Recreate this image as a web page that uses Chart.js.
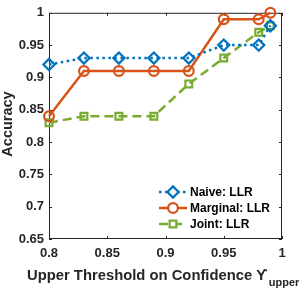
<!DOCTYPE html>
<html><head><meta charset="utf-8">
<script src="https://cdn.jsdelivr.net/npm/chart.js@4.4.1/dist/chart.umd.min.js"></script>
<style>html,body{margin:0;padding:0;background:#fff}#wrap{width:304px;height:289px}</style>
</head><body><div id="wrap"><canvas id="c" width="304" height="289"></canvas></div>
<script>
const thresholds = [0.8, 0.83, 0.86, 0.89, 0.92, 0.95, 0.98, 0.99];
const naive = [0.92, 0.93, 0.93, 0.93, 0.93, 0.95, 0.95, 0.98];
const marginal = [0.84, 0.91, 0.91, 0.91, 0.91, 0.99, 0.99, 1.0];
const joint = [0.83, 0.84, 0.84, 0.84, 0.89, 0.93, 0.97, 0.98];
const xTicks = [0.8, 0.85, 0.9, 0.95, 1];
const yTicks = [0.65, 0.7, 0.75, 0.8, 0.85, 0.9, 0.95, 1];
const seriesLabels = ['Naive: LLR', 'Marginal: LLR', 'Joint: LLR'];
const xTitle = 'Upper Threshold on Confidence \u03D2';
const xTitleSub = 'upper';
const yTitle = 'Accuracy';

const FONT = 'Liberation Sans, Arial, sans-serif';
const AX = '#262626';
const pts = arr => thresholds.map((x, i) => ({x, y: arr[i]}));

const styles = [
  {color:'#0072BD', dash:[2.5,3.5], pointStyle:'rectRot', radius:5.6},
  {color:'#D95319', dash:[], pointStyle:'circle', radius:4.9},
  {color:'#77AC30', dash:[9,5], pointStyle:'rect', radius:4.8}
];
const datasets = [naive, marginal, joint].map((d, i) => ({
  label: seriesLabels[i], data: pts(d), showLine: true, clip: false,
  borderColor: styles[i].color, backgroundColor: 'rgba(255,255,255,0)',
  borderWidth: 2.5, borderDash: styles[i].dash,
  pointStyle: styles[i].pointStyle, pointRadius: styles[i].radius,
  pointBorderWidth: 2.2, pointBorderColor: styles[i].color,
  pointBackgroundColor: 'rgba(255,255,255,0)'
}));

const framePlugin = {
  id:'frame',
  beforeDatasetsDraw(chart){
    const {ctx, chartArea:a, scales:{x, y}} = chart;
    ctx.save();
    ctx.strokeStyle = AX; ctx.lineWidth = 1;
    ctx.strokeRect(a.left+0.5, a.top+0.5, a.right-a.left-1, a.bottom-a.top-1);
    ctx.beginPath();
    xTicks.forEach(v => { const px = Math.round(x.getPixelForValue(v))+0.5;
      ctx.moveTo(px, a.bottom); ctx.lineTo(px, a.bottom-3);
      ctx.moveTo(px, a.top); ctx.lineTo(px, a.top+3); });
    yTicks.forEach(v => { const py = Math.round(y.getPixelForValue(v))+0.5;
      ctx.moveTo(a.left, py); ctx.lineTo(a.left+3, py);
      ctx.moveTo(a.right, py); ctx.lineTo(a.right-3, py); });
    ctx.stroke();
    ctx.restore();
  },
  afterDraw(chart){
    const {ctx, chartArea:a} = chart;
    ctx.save();
    // x title with subscript
    ctx.fillStyle = AX;
    ctx.font = 'bold 14.8px ' + FONT;
    ctx.textBaseline = 'alphabetic';
    const w1 = ctx.measureText(xTitle).width;
    let sx = 27;
    ctx.textAlign = 'left';
    ctx.fillText(xTitle, sx, 280);
    ctx.font = 'bold 11px ' + FONT;
    ctx.fillText(xTitleSub, sx + w1 + 1, 286);
    // y title
    ctx.save();
    ctx.translate(8, 124);
    ctx.rotate(-Math.PI/2);
    ctx.font = 'bold 14.5px ' + FONT;
    ctx.textAlign = 'center'; ctx.textBaseline = 'middle';
    ctx.fillText(yTitle, 0, 0);
    ctx.restore();
    // legend
    const rows = [192, 208, 224];
    chart.data.datasets.forEach((ds, i) => {
      const ry = rows[i];
      ctx.strokeStyle = ds.borderColor; ctx.lineWidth = 2.5;
      ctx.setLineDash(ds.borderDash);
      ctx.beginPath(); ctx.moveTo(159, ry); ctx.lineTo(187, ry); ctx.stroke();
      ctx.setLineDash([]);
      ctx.lineWidth = 2.2;
      ctx.fillStyle = '#fff';
      Chart.helpers.drawPoint(ctx, {pointStyle: ds.pointStyle, radius: ds.pointRadius, borderWidth: 2.2}, 173, ry);
      ctx.fillStyle = '#000';
      ctx.font = 'bold 12px ' + FONT;
      ctx.textAlign = 'left'; ctx.textBaseline = 'middle';
      ctx.fillText(ds.label, 190, ry+0.5);
    });
    ctx.restore();
  }
};

new Chart(document.getElementById('c'), {
  type: 'scatter',
  data: {datasets},
  options: {
    responsive: false, animation: false, devicePixelRatio: 1,
    layout: {padding: {top: 7, right: 22, left: 0, bottom: 0}},
    plugins: {legend: {display: false}, tooltip: {enabled: false}},
    scales: {
      x: {type:'linear', min:0.8, max:1,
        afterBuildTicks: s => { s.ticks = xTicks.map(v => ({value:v})); },
        afterFit: s => { s.height = 50; },
        grid: {display:false, drawTicks:false}, border:{display:false},
        ticks: {color: AX, padding: 7, maxRotation:0, font:{family:FONT, size:13, weight:'bold'},
          callback: v => String(v)}},
      y: {type:'linear', min:0.65, max:1,
        afterBuildTicks: s => { s.ticks = yTicks.map(v => ({value:v})); },
        afterFit: s => { s.width = 49; },
        grid: {display:false, drawTicks:false}, border:{display:false},
        ticks: {color: AX, padding: 5, font:{family:FONT, size:13, weight:'bold'},
          callback: v => String(v)}}
    }
  },
  plugins: [framePlugin]
});
</script></body></html>
